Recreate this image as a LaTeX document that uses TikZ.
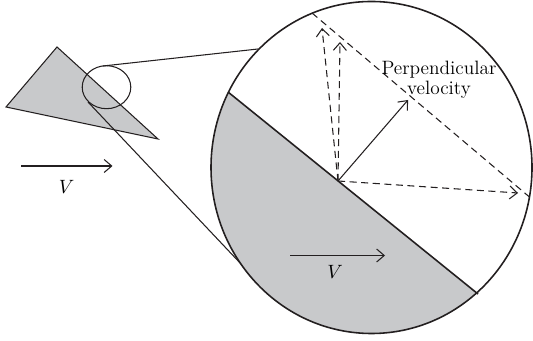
\documentclass[tikz,border=0pt]{standalone}
\usetikzlibrary{arrows.meta}
\definecolor{hullgray}{RGB}{200,201,203}
\definecolor{inkline}{RGB}{35,31,32}

\begin{document}
\begin{tikzpicture}[>={Straight Barb[length=4.3pt,width=7.4pt]},
  line width=0.6pt, draw=inkline, font=\fontsize{11}{11.5}\selectfont,
  rim/.style={line width=0.9pt},
  flowarrow/.style={->},
  dashedarrow/.style={->, dash pattern=on 4pt off 2.6pt}]

\useasboundingbox (0,0) rectangle (10.66,6.82);

% kleiner Keil mit Lupenkreis
\filldraw[fill=hullgray] (1.14,5.88) -- (0.12,4.68) -- (3.16,4.04) -- cycle;
\draw (2.13,5.076) ellipse (0.486 and 0.43);

% Verbindungslinien zur Vergroesserung
\coordinate (smalltop) at (2.06,5.50);
\coordinate (smallbot) at (1.76,4.78);
\coordinate (bigtop)   at (5.16,5.84);
\coordinate (bigbot)   at (4.84,1.52);
\draw (smalltop) -- (bigtop);
\draw (smallbot) -- (bigbot);

% vergroesserter Ausschnitt: Koerper unterhalb der Wand
\begin{scope}
  \clip (7.43,3.47) ellipse (3.21 and 3.32);
  \fill[hullgray] (3.56,5.79) -- (10.56,0.13) -- (10.56,-0.5) -- (3.56,-0.5) -- cycle;
\end{scope}
\coordinate (wallA) at (4.56,4.98);
\coordinate (wallB) at (9.56,0.94);
\draw[rim] (7.43,3.47) ellipse (3.21 and 3.32);
\draw[rim] (wallA) -- (wallB);

% Geschwindigkeiten im Auftreffpunkt
\coordinate (hit)   at (6.76,3.20);
\coordinate (perpv) at (8.16,4.82);
\coordinate (upA)   at (6.44,6.26);
\coordinate (upB)   at (6.80,5.98);
\coordinate (sidev) at (10.36,2.96);
\coordinate (tipsA) at (6.24,6.56);
\coordinate (tipsB) at (10.66,2.82);
\draw[dash pattern=on 4pt off 2.6pt] (tipsA) -- (tipsB);
\draw[dashedarrow] (hit) -- (upA);
\draw[dashedarrow] (hit) -- (upB);
\draw[dashedarrow] (hit) -- (sidev);
\draw[flowarrow] (hit) -- (perpv);
\node[align=center] (perplabel) at (8.78,5.22) {Perpendicular\\velocity};

% Anstroemgeschwindigkeit V
\coordinate (vsA) at (0.42,3.50);
\coordinate (vsB) at (2.25,3.50);
\draw[flowarrow] (vsA) -- (vsB);
\node (vsmall) at (1.33,3.08) {$V$};
\coordinate (vbA) at (5.80,1.71);
\coordinate (vbB) at (7.70,1.71);
\draw[flowarrow] (vbA) -- (vbB);
\node (vbig) at (6.70,1.38) {$V$};

\end{tikzpicture}
\end{document}
